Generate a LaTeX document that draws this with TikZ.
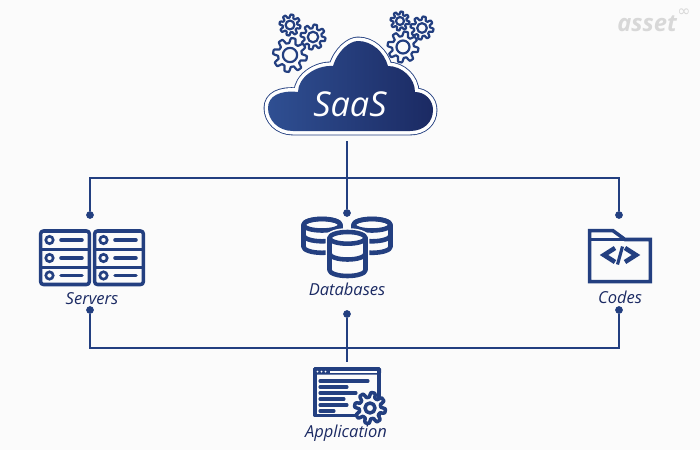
\documentclass[tikz,border=0pt]{standalone}
\usepackage{fontspec}
\setmainfont{Open Sans}
\newfontfamily\symfont{DejaVu Sans}
\definecolor{navy}{HTML}{233F80}
\definecolor{navyl}{HTML}{2F4F92}
\definecolor{navyd}{HTML}{1B2A63}
\definecolor{paper}{HTML}{FBFBFB}
\definecolor{mark}{HTML}{D8D8D8}
\tikzset{
wire/.style={navy,line width=1.05pt},
dot/.style={circle,fill=navy,inner sep=0pt,minimum size=4.4pt},
iconline/.style={navy,line width=2pt,line cap=round,line join=round},
dbline/.style={navy,line width=2.6pt,line cap=round,line join=round},
gearline/.style={navy,line width=1.25pt,line join=round},
caption/.style={text=navyd,font=\itshape\fontsize{9.4}{11}\selectfont,inner sep=0pt}
}
\def\cloudpath{(293,131) .. controls (278,131) and (268,120) .. (268,108)
 .. controls (268,96) and (280,90) .. (298,92)
 .. controls (298,78) and (315,65) .. (333,66)
 .. controls (338,50) and (350,41) .. (358,41)
 .. controls (372,41) and (384,52) .. (388,66)
 .. controls (402,66) and (415,78) .. (415,92)
 .. controls (425,92) and (433,100) .. (433,110)
 .. controls (433,122) and (424,131) .. (410,131) -- cycle}
\begin{document}
\begin{tikzpicture}[x=0.02cm,y=-0.02cm]
\fill [paper] (0,0) rectangle (700,450);
% gears above the cloud
\foreach \gx/\gy/\gr in {290/25/10.5,313/37/12.5,290/55/17,400/21/9.5,422/28/11.5,403/47/15.5}
{
\draw [gearline,fill=paper] plot [domain=0:360,samples=145,variable=\t]
 ({\gx+\gr*(0.85+0.15*max(-1,min(1,2*sin(8*\t))))*cos(\t)},{\gy+\gr*(0.85+0.15*max(-1,min(1,2*sin(8*\t))))*sin(\t)}) -- cycle;
\draw [gearline] (\gx,\gy) circle (0.42*\gr);
}
% cloud
\draw [navy,line width=5pt,line join=round] \cloudpath;
\draw [white,line width=4pt,line join=round] \cloudpath;
\shade [left color=navyl,right color=navyd] \cloudpath;
\node [text=white,font=\itshape\fontsize{19.5}{24}\selectfont,inner sep=0pt] (saas) at (350,104) {SaaS};
% connectors
\coordinate (cloudfoot) at (347,141);
\coordinate (topjoin) at (347,178);
\coordinate (lowjoin) at (347,348);
\coordinate (appfoot) at (347,362);
\node [dot] (servertop) at (90,215) {};
\node [dot] (datatop) at (347,213) {};
\node [dot] (codetop) at (619,215) {};
\node [dot] (serverlow) at (90,310) {};
\node [dot] (datalow) at (347,314) {};
\node [dot] (codelow) at (619,310) {};
\draw [wire] (cloudfoot) -- (datatop);
\draw [wire] (servertop) |- (topjoin) -| (codetop);
\draw [wire] (serverlow) |- (lowjoin) -| (codelow);
\draw [wire] (datalow) -- (appfoot);
% servers
\foreach \x in {39,93}
{
\draw [iconline,fill=paper,rounded corners=1.5pt] (\x+1.7,231) rectangle (\x+50.3,284.5);
\draw [iconline] (\x+2,249.7) -- (\x+50,249.7);
\draw [iconline] (\x+2,267.5) -- (\x+50,267.5);
\foreach \y in {240,258,275.5}
{
\draw [navy,line width=1.5pt] (\x+10.5,\y) circle (3.7);
\draw [iconline] (\x+22,\y) -- (\x+43,\y);
}
}
\node [caption] (servers) at (92,299) {Servers};
% databases
\foreach \x/\y in {322/224.8,372/224.8}
{
\draw [dbline,fill=paper] (\x-18.5,\y) -- (\x-18.5,\y+22) arc [start angle=180,end angle=0,x radius=18.5,y radius=6] -- (\x+18.5,\y) arc [start angle=0,end angle=-180,x radius=18.5,y radius=6];
\draw [dbline] (\x-18.5,\y+10.5) arc [start angle=180,end angle=0,x radius=18.5,y radius=6];
\draw [dbline] (\x,\y) ellipse (18.5 and 5.7);
}
\draw [paper,line width=4.4pt,fill=paper] (329.5,238) -- (329.5,270) arc [start angle=180,end angle=0,x radius=18,y radius=6] -- (365.5,238) arc [start angle=0,end angle=-180,x radius=18,y radius=6];
\draw [dbline,fill=paper] (329.5,238) -- (329.5,270) arc [start angle=180,end angle=0,x radius=18,y radius=6] -- (365.5,238) arc [start angle=0,end angle=-180,x radius=18,y radius=6];
\draw [dbline] (329.5,253.5) arc [start angle=180,end angle=0,x radius=18,y radius=6];
\draw [dbline] (329.5,238) arc [start angle=180,end angle=0,x radius=18,y radius=5.7];
\node [caption] (databases) at (347,289) {Databases};
% codes
\draw [iconline,fill=paper,line join=miter] (589.7,230.7) -- (613,230.7) -- (625,239.5) -- (650.3,239.5) -- (650.3,281.7) -- (589.7,281.7) -- cycle;
\draw [iconline,line cap=butt] (591,239.5) -- (625,239.5);
\draw [iconline,line width=2.6pt,line cap=butt,line join=miter] (615,248) -- (604,255) -- (615,262);
\draw [iconline,line width=2.6pt,line cap=butt,line join=miter] (625,248) -- (636,255) -- (625,262);
\draw [iconline,line width=1.8pt,line cap=butt] (617.5,264.5) -- (622.5,246.5);
\node [caption] (codes) at (620,297) {Codes};
% application
\draw [iconline,fill=paper] (315,369) rectangle (379,415.5);
\fill [navy,rounded corners=1pt] (313,367) rectangle (381,374.5);
\fill [white] (330,370.5) rectangle (377,372.5);
\foreach \x in {317.5,321.5,325.5}
\fill [white] (\x,371.5) circle (1);
\foreach \y/\e in {381/368,387/347,393/356,399/344,405/347,411/334}
\draw [iconline,line width=1.8pt] (320,\y) -- (\e,\y);
\draw [gearline,line width=2pt,fill=paper] plot [domain=0:360,samples=145,variable=\t]
 ({370+15.5*(0.85+0.15*max(-1,min(1,2*sin(8*\t))))*cos(\t)},{408+15.5*(0.85+0.15*max(-1,min(1,2*sin(8*\t))))*sin(\t)}) -- cycle;
\draw [gearline,line width=2pt] (370,408) circle (5);
\node [caption] (application) at (346,433) {Application};
% watermark
\node [text=mark,font=\bfseries\itshape\fontsize{13.5}{15}\selectfont,inner sep=0pt] (asset) at (647,24) {asset};
\node [text=mark,font=\symfont\fontsize{9}{10}\selectfont,inner sep=0pt] (infty) at (684,13) {∞};
\end{tikzpicture}
\end{document}
